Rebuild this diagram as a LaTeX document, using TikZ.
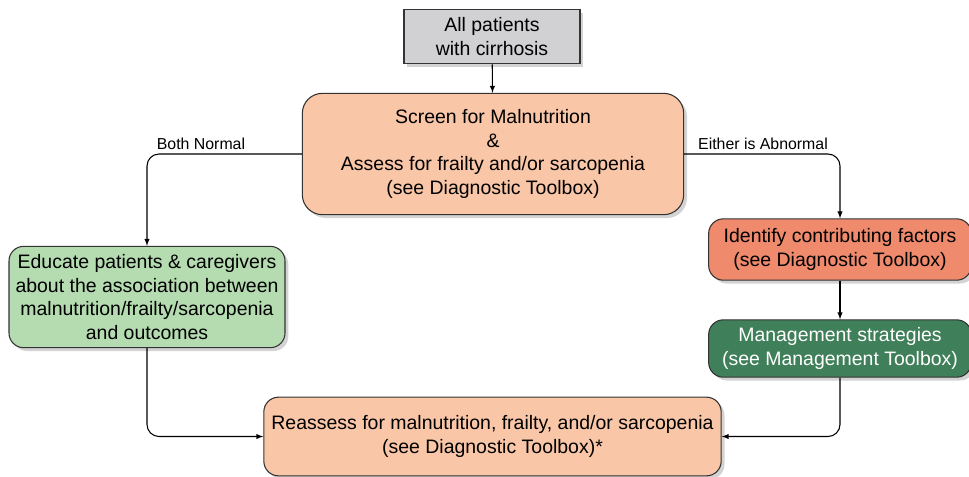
\documentclass[tikz,border=0pt]{standalone}
\usepackage{fontspec}
\setmainfont{Liberation Sans}
\usetikzlibrary{shadows}

\definecolor{peach}{HTML}{F9C6A7}
\definecolor{softgreen}{HTML}{B4DCB0}
\definecolor{salmon}{HTML}{EF8A6D}
\definecolor{darkgreen}{HTML}{3F7F5A}
\definecolor{boxgray}{HTML}{D1D1D3}

\tikzset{
  flowbox/.style={draw=black!80, line width=0.8pt, rounded corners=11,
    align=center, inner sep=0pt,
    font=\fontsize{14.6}{17.6}\selectfont,
    drop shadow={opacity=0.35, shadow xshift=2.5pt, shadow yshift=-2.5pt}},
  flowlabel/.style={font=\fontsize{11.9}{13}\selectfont, inner sep=1pt},
  flowline/.style={->, line width=0.8pt, rounded corners=9}
}

\begin{document}
\begin{tikzpicture}[x=0.75pt, y=-0.75pt, >=latex]
	\useasboundingbox (0,0) rectangle (969,476);

	\node[flowbox, rounded corners=0, fill=boxgray, minimum width=132pt, minimum height=41pt]
	   (patients) at (492,36.5) {All patients\\with cirrhosis};
	\node[flowbox, rounded corners=15, fill=peach, minimum width=286pt, minimum height=91pt]
	   (screen) at (493,154) {Screen for Malnutrition\\\&\\Assess for frailty and/or sarcopenia\\(see Diagnostic Toolbox)};
	\node[flowbox, fill=softgreen, minimum width=207pt, minimum height=76pt]
	   (educate) at (147,297) {Educate patients \& caregivers\\about the association between\\malnutrition/frailty/sarcopenia\\and outcomes};
	\node[flowbox, fill=salmon, minimum width=197pt, minimum height=46pt]
	   (identify) at (840,249.5) {Identify contributing factors\\(see Diagnostic Toolbox)};
	\node[flowbox, fill=darkgreen, text=white, minimum width=197pt, minimum height=43pt]
	   (manage) at (840,348.5) {Management strategies\\(see Management Toolbox)};
	\node[flowbox, fill=peach, minimum width=343pt, minimum height=59pt]
	   (reassess) at (492.5,436.5) {Reassess for malnutrition, frailty, and/or sarcopenia\\(see Diagnostic Toolbox)*};

	\node[flowlabel] (normal) at (201,144) {Both Normal};
	\node[flowlabel] (abnormal) at (763,144) {Either is Abnormal};

	\draw[flowline] (patients) -- (screen);
	\draw[flowline] (screen.west) -| (educate.north);
	\draw[flowline] (screen.east) -| (identify.north);
	\draw[flowline] (identify) -- (manage);
	\draw[flowline] (educate.south) |- (reassess.west);
	\draw[flowline] (manage.south) |- (reassess.east);
\end{tikzpicture}
\end{document}
